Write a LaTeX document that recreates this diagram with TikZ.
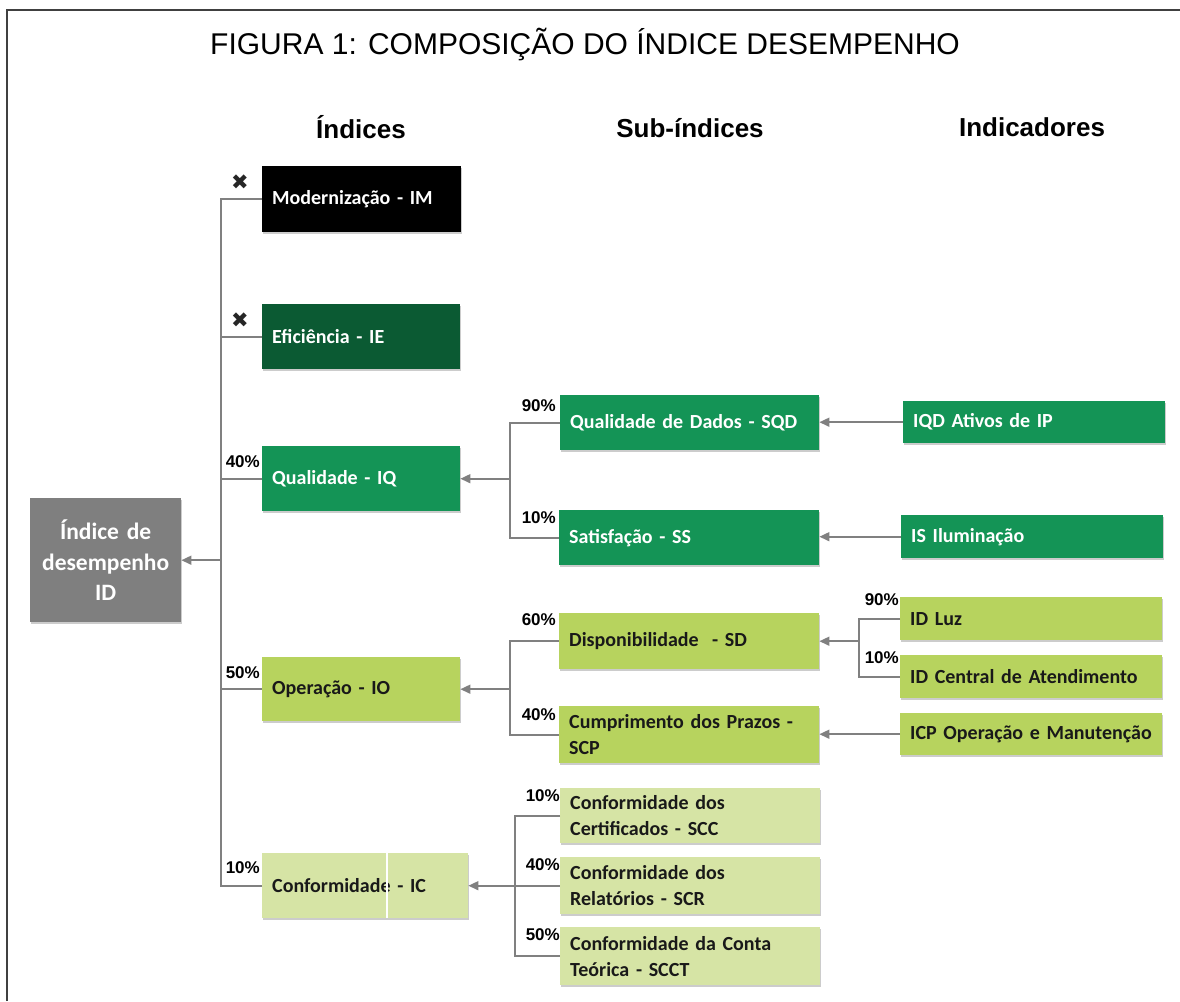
\documentclass[tikz,border=0pt]{standalone}
\usepackage{fontspec}
\setmainfont{Liberation Sans}
\newfontfamily\cbri{Carlito}
\newfontfamily\djv{DejaVu Sans}
\usetikzlibrary{arrows.meta,shadows}
\definecolor{cGray}{HTML}{7F7F7F}
\definecolor{cDark}{HTML}{0B5A33}
\definecolor{cMid}{HTML}{149456}
\definecolor{cLime}{HTML}{B7D35E}
\definecolor{cPale}{HTML}{D6E4A5}
\definecolor{cLine}{HTML}{808080}
\definecolor{cFrame}{HTML}{404040}
\begin{document}
\begin{tikzpicture}[x=1pt,y=-1pt,
  box/.style={anchor=north west, inner xsep=10pt, inner ysep=0pt, align=left,
    font=\cbri\bfseries\fontsize{20}{26}\selectfont,
    drop shadow={shadow xshift=0.6pt, shadow yshift=-2pt, fill=black!40}},
  bs/.style n args={3}{minimum width=#1pt, text width=#2pt, minimum height=#3pt},
  dk/.style={fill=#1, text=white},
  lt/.style={fill=#1, text=black!90},
  hdr/.style={font=\bfseries\fontsize{26}{30}\selectfont},
  pct/.style={font=\bfseries\fontsize{17}{18}\selectfont, inner sep=0pt, anchor=east},
  xm/.style={font=\djv\fontsize{21}{21}\selectfont, inner sep=0pt, text=black!85},
  ln/.style={draw=cLine, line width=1.6pt},
  ar/.style={draw=cLine, line width=1.6pt, -{Triangle[length=10pt,width=9pt]}}
]
\useasboundingbox (0,0) rectangle (1180,1001);
% frame
\draw[cFrame, line width=2.5pt] (7,1001) -- (7,10) -- (1180,10);

% title and headers
\node[font=\fontsize{30}{36}\selectfont] (title) at (585,45) {FIGURA 1: COMPOSIÇÃO DO ÍNDICE DESEMPENHO};
\node[hdr] (h1) at (361,127) {Índices};
\node[hdr] (h2) at (690,128) {Sub-índices};
\node[hdr] (h3) at (1032,127) {Indicadores};

% root
\node[box, bs={151}{131}{124}, fill=cGray, text=white, align=center,
  font=\cbri\bfseries\fontsize{23.5}{30.5}\selectfont] (id) at (30,498) {Índice de\\desempenho\\ID};

% indices
\node[box, bs={199}{179}{66}, dk=black] (im) at (262,166) {Modernização - IM};
\node[box, bs={198}{178}{65}, dk=cDark] (ie) at (262,304) {Eficiência - IE};
\node[box, bs={198}{178}{65}, dk=cMid] (iq) at (262,446) {Qualidade - IQ};
\node[box, bs={198}{178}{64}, lt=cLime] (io) at (262,657) {Operação - IO};
\node[box, bs={206}{186}{65}, lt=cPale] (ic) at (262,853) {Conformidade - IC};
\draw[white, line width=1.5pt] ([xshift=125pt]ic.north west) -- ([xshift=125pt]ic.south west);

% sub-indices
\node[box, bs={259}{239}{55}, dk=cMid] (sqd) at (560,395) {Qualidade de Dados - SQD};
\node[box, bs={260}{240}{55}, dk=cMid] (ss) at (559,510) {Satisfação - SS};
\node[box, bs={260}{240}{56}, lt=cLime] (sd) at (559,613) {Disponibilidade\ \ - SD};
\node[box, bs={260}{240}{57}, lt=cLime] (scp) at (559,706) {Cumprimento dos Prazos -\\SCP};
\node[box, bs={260}{240}{55}, lt=cPale] (scc) at (560,788) {Conformidade dos\\Certificados - SCC};
\node[box, bs={260}{240}{57}, lt=cPale] (scr) at (560,857) {Conformidade dos\\Relatórios - SCR};
\node[box, bs={260}{240}{58}, lt=cPale] (scct) at (560,927) {Conformidade da Conta\\Teórica - SCCT};

% indicators
\node[box, bs={262}{242}{42}, dk=cMid] (iqd) at (903,401) {IQD Ativos de IP};
\node[box, bs={262}{242}{43}, dk=cMid] (is) at (901,515) {IS Iluminação};
\node[box, bs={262}{242}{43}, lt=cLime] (luz) at (900,597) {ID Luz};
\node[box, bs={262}{242}{43}, lt=cLime] (cen) at (900,655) {ID Central de Atendimento};
\node[box, bs={262}{242}{42}, lt=cLime] (icp) at (900,713) {ICP Operação e Manutenção};

% trunk
\coordinate (tr) at (221,0);
\draw[ln] (im.west) -| (tr |- ic.west) -- (ic.west);
\draw[ln] (ie.west) -- (ie.west -| tr);
\draw[ln] (iq.west) -- (iq.west -| tr);
\draw[ln] (io.west) -- (io.west -| tr);
\draw[ar] (tr |- id.east) -- (id.east);

% quality fork
\coordinate (qf) at (510,0);
\draw[ln] (sqd.west) -| (qf |- ss.west) -- (ss.west);
\draw[ar] (qf |- iq.east) -- (iq.east);
\draw[ar] (iqd.west) -- (iqd.west -| sqd.east);
\draw[ar] (is.west) -- (is.west -| ss.east);

% operation fork
\coordinate (of) at (510,0);
\draw[ln] (sd.west) -| (of |- scp.west) -- (scp.west);
\draw[ar] (of |- io.east) -- (io.east);
\coordinate (df) at (859,0);
\draw[ln] (luz.west) -| (df |- cen.west) -- (cen.west);
\draw[ar] (df |- sd.east) -- (sd.east);
\draw[ar] (icp.west) -- (icp.west -| scp.east);

% conformity fork
\coordinate (cf) at (515,0);
\draw[ln] (scc.west) -| (cf |- scct.west) -- (scct.west);
\draw[ln] (cf |- scr.west) -- (scr.west);
\draw[ar] (cf |- ic.east) -- (ic.east);

% marks and percentages
\node[xm] (x1) at (240,182) {✖};
\node[xm] (x2) at (240,320) {✖};
\node[pct] (p1) at (260,462) {40\%};
\node[pct] (p2) at (260,673) {50\%};
\node[pct] (p3) at (260,868) {10\%};
\node[pct] (p4) at (556,406) {90\%};
\node[pct] (p5) at (556,518) {10\%};
\node[pct] (p6) at (556,620) {60\%};
\node[pct] (p7) at (556,715) {40\%};
\node[pct] (p8) at (560,796) {10\%};
\node[pct] (p9) at (560,865) {40\%};
\node[pct] (p10) at (560,935) {50\%};
\node[pct] (p11) at (899,600) {90\%};
\node[pct] (p12) at (899,658) {10\%};
\end{tikzpicture}
\end{document}
